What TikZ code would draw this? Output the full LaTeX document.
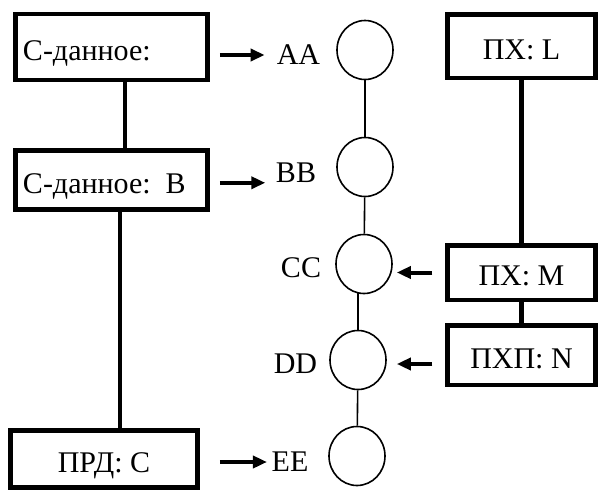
\documentclass[tikz,border=0pt]{standalone}
\usepackage{fontspec}
\setmainfont{Liberation Serif}
\usetikzlibrary{arrows.meta,shapes.geometric}

\begin{document}
\begin{tikzpicture}[x=1pt, y=-1pt, line join=miter, >={Triangle[length=14pt,width=12pt]},
    font=\fontsize{30}{35}\selectfont,
    box/.style={draw, line width=4.5pt, inner sep=0pt, text height=26pt, text depth=0pt},
    lbox/.style={box, inner xsep=7.5pt, text width=177pt, align=left},
    link/.style={line width=4.5pt},
    ring/.style={draw, ellipse, line width=1.6pt, minimum width=56pt, minimum height=59pt, inner sep=0pt},
    tie/.style={line width=1.6pt},
    lab/.style={inner sep=2pt},
    arr/.style={->, line width=4pt}]
    \useasboundingbox (0,0) rectangle (598,491);

    \node[lbox, minimum width=192pt, minimum height=66pt] (S1) at (111.5,47) {С-данное:};
    \node[lbox, minimum width=192pt, minimum height=59pt] (S2) at (111.5,180) {С-данное: B};
    \node[box, minimum width=187pt, minimum height=57pt] (PRD) at (104,459) {ПРД: C};
    \node[box, minimum width=148pt, minimum height=63.5pt] (PL) at (521.5,46) {ПХ: L};
    \node[box, minimum width=148pt, minimum height=54.5pt] (PM) at (521.5,272.5) {ПХ: M};
    \node[box, minimum width=148pt, minimum height=59.5pt] (PN) at (521.5,355) {ПХП: N};

    \node[ring] (A) at (365,50) {};
    \node[ring] (B) at (365,167) {};
    \node[ring] (C) at (364,264) {};
    \node[ring] (D) at (358,360) {};
    \node[ring] (E) at (357,456) {};

    \node[lab] (LA) at (298.5,55) {AA};
    \node[lab] (LB) at (296,173) {BB};
    \node[lab] (LC) at (301,268) {CC};
    \node[lab] (LD) at (295.5,364) {DD};
    \node[lab] (LE) at (290,462) {EE};

    \draw[tie] (A) -- (B);
    \draw[tie] (B) -- (C);
    \draw[tie, shorten <=-1.5pt] (C.south -| D) -- (D);
    \draw[tie] (D) -- (E);

    \coordinate (K1) at (125,0);
    \coordinate (K2) at (120,0);
    \draw[link] (S1.south -| K1) -- (S2.north -| K1);
    \draw[link] (S2.south -| K2) -- (PRD.north -| K2);
    \draw[link] (PL) -- (PM);
    \draw[link] (PM) -- (PN);

    \draw[arr, shorten <=10pt, shorten >=10pt] (S1.east |- LA) -- (LA.west);
    \draw[arr, shorten <=10pt, shorten >=8.5pt] (S2.east |- LB.base) -- (LB.base west);
    \draw[arr, shorten <=20pt, shorten >=2.5pt] (PRD.east |- LE) -- (LE.west);
    \draw[arr, shorten <=13pt, shorten >=4pt] (PM.west) -- (PM.west -| C.east);
    \draw[arr, shorten <=13pt, shorten >=10pt] (PN.west |- LD) -- (LD -| D.east);
\end{tikzpicture}
\end{document}
